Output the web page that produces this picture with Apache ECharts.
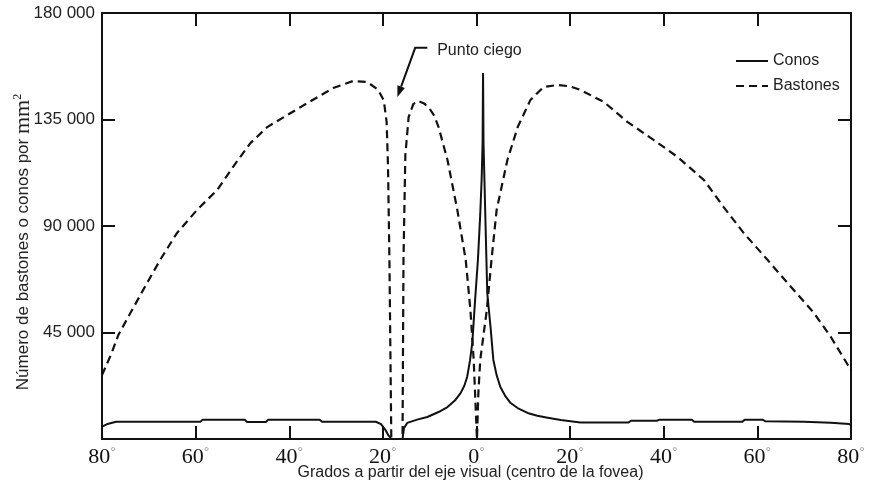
<!DOCTYPE html>
<html>
<head>
<meta charset="utf-8">
<script src="https://cdn.jsdelivr.net/npm/echarts@6/dist/echarts.min.js"></script>
<style>
  html, body { margin: 0; padding: 0; background: #fff; }
  #chart { width: 870px; height: 488px; }
</style>
</head>
<body>
<div id="chart"></div>
<script>
// degrees from the visual axis (negative = left side of the plot)
const rodDeg = [-80, -78, -76.5, -74, -71.2, -67.6, -64, -59.7, -55.4, -52, -48.3, -44.7, -40.4, -36.1, -30.6,
  -26.3, -23.3, -21, -19.8, -19.2, -18.9, -18.6, -18.2, -15.8, -15.6, -15.2, -14.5, -13.5, -12.5, -11.2, -10, -9,
  -8.1, -6.2, -4.1, -2.3, -1.3, -0.6, 0.1, 0.4, 0.8, 2.2, 3.2, 4.3, 6.6, 8.8, 11.5, 14.3, 17.3, 20, 22.2, 27.2,
  32.3, 37.9, 43, 48.6, 52.8, 57.1, 62.2, 67.2, 72.1, 75.7, 79.6, 80];
const rodVal = [27000, 36000, 44000, 53000, 63000, 75600, 87000, 96800, 105200, 115000, 125000, 131800, 136900, 142000, 148300,
  151300, 150800, 147500, 143000, 134000, 115000, 75600, 0, 0, 75600, 120000, 136000, 141500, 142800, 141800, 139500, 136500,
  131800, 117900, 96800, 75600, 54500, 33400, 0, 19400, 33400, 54500, 75600, 96800, 117900, 131800, 143200, 148700, 149600, 149000, 147500, 142400,
  133900, 126300, 119100, 109400, 98000, 87000, 75600, 64200, 53200, 43100, 30400, 29000];

const coneDeg = [-80, -79, -77, -59, -58.5, -49.5, -49, -45, -44.5, -33.5, -33, -21.5, -20.4, -19.5, -18.8, -18.2,
  -15.8, -15.5, -14.8, -12.5, -10.5, -8, -6.2, -4.5, -3.4, -2.6, -2, -1.4, -0.9, -0.3, 0.3, 0.8, 1.1, 1.3, 1.4, 1.5,
  1.8, 2.3, 3, 3.6, 4.3, 5.1, 6.2, 7.3, 9, 10.9, 13, 15.2, 18, 22.2, 32.5, 33, 38.5, 39, 46, 46.5, 56.8, 57.3, 61.2, 61.7,
  70, 75.7, 79.6, 80];
const coneVal = [5200, 6200, 7300, 7300, 8100, 8100, 7200, 7200, 8100, 8100, 7300, 7300, 6300, 4000, 1500, 0,
  0, 4500, 6800, 8300, 9300, 11500, 13500, 16500, 19400, 22500, 26200, 33000, 40600, 58700, 75600, 95000, 110000, 125000, 154600, 125000,
  101000, 61700, 47300, 33400, 27000, 22000, 18000, 15200, 12800, 11000, 9800, 9000, 8000, 7000, 7000, 7700, 7700, 8100, 8100, 7300, 7300, 8100, 8100, 7500,
  7300, 6900, 6300, 5900];

// "Punto ciego" callout, in data units
const noteText = 'Punto ciego';
const notePos = [-8.4, 164300];
const arrowPath = [[-10.5, 165300], [-13.1, 165300], [-16.9, 144500]];

const chart = echarts.init(document.getElementById('chart'));

const sans = 'Liberation Sans, Arial, sans-serif';
const serif = 'Liberation Serif, Times New Roman, serif';
const ink = '#111';

function thousands(v) {
  return String(v).replace(/\B(?=(\d{3})+(?!\d))/g, ' ');
}

const frameAxis = {
  type: 'value',
  axisLine: { show: true, onZero: false, lineStyle: { color: ink, width: 2 } },
  axisTick: { show: true, inside: true, length: 13, lineStyle: { color: ink, width: 2 } },
  splitLine: { show: false },
  axisLabel: { show: false }
};

chart.setOption({
  backgroundColor: '#fff',
  animation: false,
  grid: { left: 102, right: 19, top: 13, bottom: 49, containLabel: false, outerBoundsMode: 'none' },
  legend: {
    data: ['Conos', 'Bastones'],
    orient: 'vertical',
    left: 730,
    top: 48,
    itemWidth: 32,
    itemHeight: 14,
    itemGap: 9,
    itemStyle: { opacity: 0 },
    textStyle: { fontFamily: sans, fontSize: 16, color: '#222' }
  },
  xAxis: [
    Object.assign({}, frameAxis, {
      min: -80, max: 80, interval: 20, position: 'bottom',
      axisLabel: {
        show: true, margin: 7, color: '#111', fontFamily: serif, fontSize: 22,
        showMinLabel: true, showMaxLabel: true,
        formatter: v => Math.abs(v) + '{d|°}',
        rich: { d: { fontSize: 14, color: '#999', verticalAlign: 'top', fontFamily: sans } }
      },
      name: 'Grados a partir del eje visual (centro de la fovea)',
      nameLocation: 'middle',
      nameGap: 26,
      nameMoveOverlap: false,
      nameTextStyle: { fontFamily: sans, fontSize: 16, color: '#222', padding: [0, 12, 0, 0] }
    }),
    Object.assign({}, frameAxis, { min: -80, max: 80, interval: 20, position: 'top' })
  ],
  yAxis: [
    Object.assign({}, frameAxis, {
      min: 0, max: 180000, interval: 45000, position: 'left',
      axisLabel: {
        show: true, margin: 7, color: '#222', fontFamily: sans, fontSize: 17,
        formatter: v => v === 0 ? '' : thousands(v)
      },
      name: 'Número de bastones o conos por {m|mm}{s|2}',
      nameLocation: 'middle',
      nameRotate: 90,
      nameGap: 68,
      nameMoveOverlap: false,
      nameTextStyle: {
        fontFamily: sans, fontSize: 17, color: '#222', padding: [0, 32, 0, 0],
        rich: {
          m: { fontFamily: serif, fontSize: 22, color: '#222' },
          s: { fontFamily: serif, fontSize: 12, color: '#222', verticalAlign: 'top' }
        }
      }
    }),
    Object.assign({}, frameAxis, { min: 0, max: 180000, interval: 45000, position: 'right' })
  ],
  series: [
    {
      name: 'Conos',
      type: 'line',
      symbol: 'none',
      data: coneDeg.map((d, i) => [d, coneVal[i]]),
      lineStyle: { color: ink, width: 2 },
      itemStyle: { color: ink },
      z: 3
    },
    {
      name: 'Bastones',
      type: 'line',
      symbol: 'none',
      data: rodDeg.map((d, i) => [d, rodVal[i]]),
      lineStyle: { color: ink, width: 2.2, type: [8, 5] },
      itemStyle: { color: ink },
      z: 2
    }
  ]
});

// callout drawn from data coordinates
const pts = arrowPath.map(p => chart.convertToPixel({ gridIndex: 0 }, p));
const tip = pts[pts.length - 1];
const prev = pts[pts.length - 2];
const ang = Math.atan2(tip[1] - prev[1], tip[0] - prev[0]);
const headLen = 11, headHalf = 4;
const bx = tip[0] - headLen * Math.cos(ang), by = tip[1] - headLen * Math.sin(ang);
const head = [
  tip,
  [bx + headHalf * Math.sin(ang), by - headHalf * Math.cos(ang)],
  [bx - headHalf * Math.sin(ang), by + headHalf * Math.cos(ang)]
];
const shaft = pts.slice(0, -1).concat([[bx, by]]);
const tp = chart.convertToPixel({ gridIndex: 0 }, notePos);

chart.setOption({
  graphic: [
    { type: 'polyline', shape: { points: shaft }, style: { stroke: ink, lineWidth: 2, fill: null }, z: 10 },
    { type: 'polygon', shape: { points: head }, style: { fill: ink }, z: 10 },
    {
      type: 'text', x: tp[0], y: tp[1], z: 10,
      style: { text: noteText, fontFamily: sans, fontSize: 16, fill: '#222', verticalAlign: 'middle', align: 'left' }
    }
  ]
});
</script>
</body>
</html>
